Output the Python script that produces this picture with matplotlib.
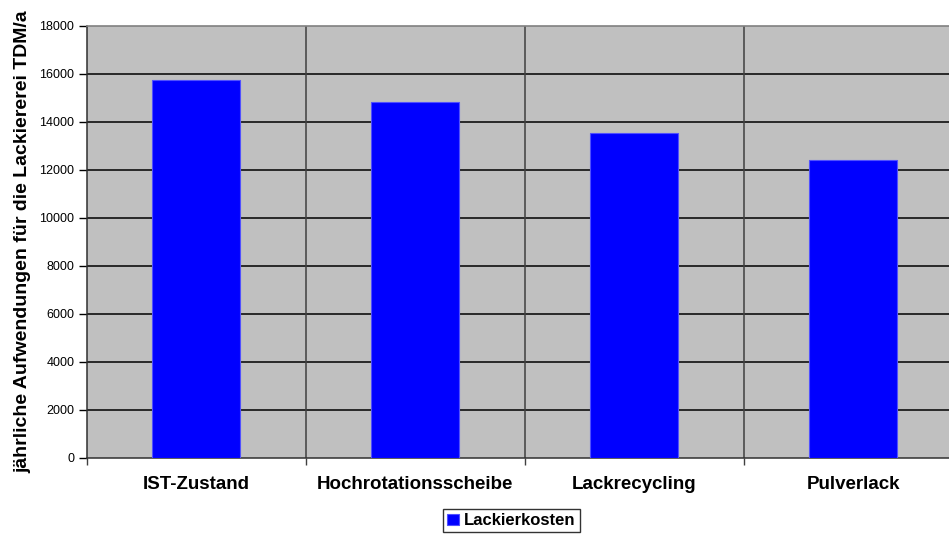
import matplotlib
matplotlib.use("Agg")
import matplotlib.pyplot as plt
import numpy as np

categories = ["IST-Zustand", "Hochrotationsscheibe", "Lackrecycling", "Pulverlack"]
lackierkosten = [15750, 14850, 13540, 12400]
yticks = [0, 2000, 4000, 6000, 8000, 10000, 12000, 14000, 16000, 18000]

plt.rcParams["font.family"] = ["Liberation Sans", "DejaVu Sans"]

W, H = 949, 536
fig = plt.figure(figsize=(W / 100, H / 100), dpi=100)
left, right, bottom, top = 86.7, 962.7, 458, 26
ax = fig.add_axes([left / W, 1 - bottom / H, (right - left) / W, (bottom - top) / H])
ax.set_facecolor("#C0C0C0")

x = np.arange(len(categories))
ax.bar(x, lackierkosten, width=0.40, color="#0000FF", edgecolor="#5050FF",
       linewidth=0.8, zorder=3, label="Lackierkosten")

ax.set_xlim(-0.5, len(categories) - 0.5)
ax.set_ylim(0, 18000)
ax.set_yticks(yticks)
ax.set_yticklabels([str(v) for v in yticks], fontsize=9)

# category separators as minor ticks with vertical lines
seps = np.arange(0.5, len(categories) - 0.5, 1.0)
ax.set_xticks(x)
ax.set_xticklabels(categories, fontsize=13.5, fontweight="bold")
ax.set_xticks(list(seps) + [-0.5], minor=True)
ax.tick_params(axis="x", which="major", length=0, pad=13)
ax.tick_params(axis="x", which="minor", length=5, width=1.0, color="#404040")
ax.tick_params(axis="y", length=6, width=1.0, pad=3)

for v in yticks[1:-1]:
    ax.axhline(v, color="black", linewidth=1.1, zorder=2)
for s in seps:
    ax.axvline(s, color="#404040", linewidth=1.1, zorder=2)

for side in ["top", "right"]:
    ax.spines[side].set_color("#808080")
    ax.spines[side].set_linewidth(1.2)
ax.spines["left"].set_color("#303030")
ax.spines["bottom"].set_color("#303030")
ax.spines["left"].set_linewidth(1.1)
ax.spines["bottom"].set_linewidth(1.1)

ax.set_ylabel("jährliche Aufwendungen für die Lackiererei TDM/a",
              fontsize=14, fontweight="bold", labelpad=6)

leg = fig.legend(loc="upper center", bbox_to_anchor=(511.5 / W, 1 - 509 / H),
                 frameon=True, fancybox=False, edgecolor="black",
                 prop={"size": 12, "weight": "bold"},
                 handlelength=0.7, handleheight=0.7, handletextpad=0.3,
                 borderpad=0.25, borderaxespad=0)
leg.get_frame().set_linewidth(1.0)

fig.savefig("out.png", dpi=100)
